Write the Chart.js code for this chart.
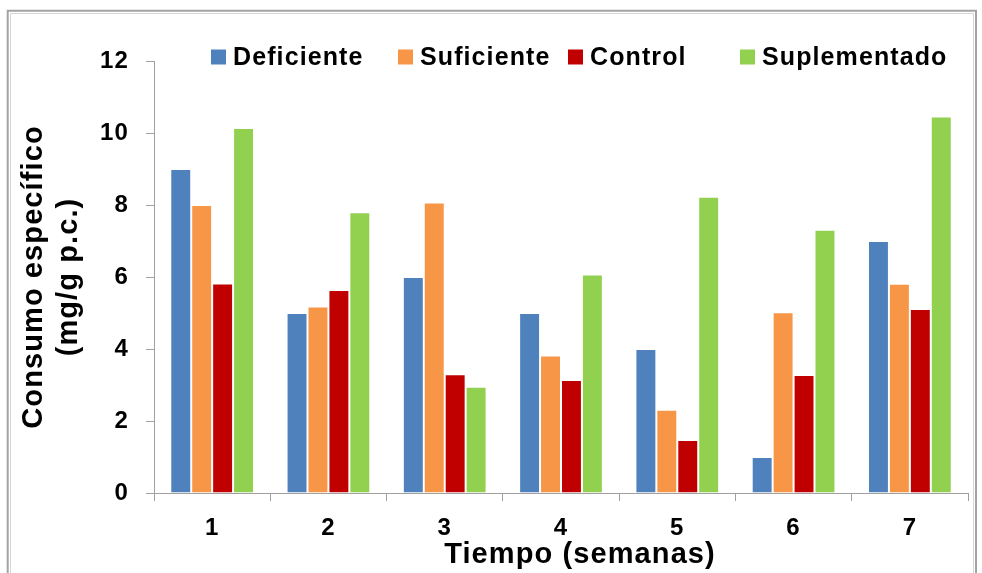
<!DOCTYPE html>
<html>
<head>
<meta charset="utf-8">
<script src="https://cdn.jsdelivr.net/npm/chart.js@4/dist/chart.umd.min.js"></script>
<style>
  html, body { margin: 0; padding: 0; background: #ffffff; }
  canvas { display: block; }
</style>
</head>
<body>
<canvas id="c" width="982" height="573"></canvas>
<script>
// Weekly specific consumption per group
const semanas = ['1', '2', '3', '4', '5', '6', '7'];
const deficiente   = [9, 5, 6, 5, 4, 1, 7];
const suficiente   = [8, 5.18, 8.07, 3.82, 2.31, 5.02, 5.81];
const control      = [5.82, 5.64, 3.3, 3.14, 1.47, 3.28, 5.11];
const suplementado = [10.14, 7.8, 2.95, 6.07, 8.23, 7.31, 10.46];

const seriesNames  = ['Deficiente', 'Suficiente', 'Control', 'Suplementado'];
const seriesColors = ['#4f81bd', '#f79646', '#c00000', '#92d050'];

const yTitle = ['Consumo específico', '(mg/g p.c.)'];
const xTitle = 'Tiempo (semanas)';

const FONT = "'Liberation Sans', Arial, Helvetica, sans-serif";
const SPACING = '1.1px';

// Legend swatch positions across the top of the chart
const legendBoxX = [211, 398, 568, 740];

const setSpacing = (chart) => { chart.ctx.letterSpacing = SPACING; };

const widerText = {
  id: 'widerText',
  afterInit: setSpacing,
  beforeUpdate: setSpacing,
  beforeLayout: setSpacing,
  beforeDraw: setSpacing
};

// Outer frame of the chart area (double grey border)
const frame = {
  id: 'frame',
  beforeDraw(chart) {
    const ctx = chart.ctx;
    ctx.save();
    ctx.strokeStyle = '#a3a3a3';
    ctx.lineWidth = 2;
    ctx.beginPath();
    ctx.moveTo(7.7, 600); ctx.lineTo(7.7, 10.7); ctx.lineTo(976, 10.7); ctx.lineTo(976, 600);
    ctx.stroke();
    ctx.strokeStyle = '#d6d6d6';
    ctx.lineWidth = 1;
    ctx.beginPath();
    ctx.moveTo(10.5, 600); ctx.lineTo(10.5, 13.5); ctx.lineTo(973.5, 13.5); ctx.lineTo(973.5, 600);
    ctx.stroke();
    ctx.restore();
  }
};

// Legend row and x-axis title
const extras = {
  id: 'extras',
  afterDraw(chart) {
    const ctx = chart.ctx;
    ctx.save();
    ctx.letterSpacing = SPACING;
    ctx.textBaseline = 'alphabetic';
    ctx.textAlign = 'left';
    ctx.font = 'bold 25px ' + FONT;
    chart.data.datasets.forEach((ds, i) => {
      const bx = legendBoxX[i];
      ctx.fillStyle = ds.backgroundColor;
      ctx.fillRect(bx, 49.5, 15, 15);
      ctx.fillStyle = '#000000';
      ctx.fillText(ds.label, bx + 22, 65);
    });
    const xs = chart.scales.x;
    ctx.font = 'bold 29px ' + FONT;
    ctx.textAlign = 'center';
    ctx.fillText(xTitle, (xs.left + xs.right) / 2 + 19, 563);
    ctx.restore();
  }
};

const seriesValues = [deficiente, suficiente, control, suplementado];

new Chart(document.getElementById('c'), {
  type: 'bar',
  data: {
    labels: semanas,
    datasets: seriesNames.map((name, i) => ({
      label: name,
      data: seriesValues[i],
      backgroundColor: seriesColors[i],
      borderColor: 'rgba(255,255,255,0.35)',
      borderWidth: 1,
      borderSkipped: 'start',
      categoryPercentage: 0.72,
      barPercentage: 1.0
    }))
  },
  options: {
    responsive: false,
    animation: false,
    devicePixelRatio: 1,
    layout: { padding: { top: 61, right: 14, bottom: 0, left: 0 } },
    plugins: {
      legend: { display: false },
      tooltip: { enabled: false }
    },
    scales: {
      x: {
        grid: {
          offset: true,
          drawOnChartArea: false,
          drawTicks: true,
          tickLength: 8,
          color: '#a0a0a0',
          lineWidth: 1
        },
        border: { display: true, color: '#a0a0a0', width: 1 },
        ticks: {
          color: '#000000',
          padding: 13,
          font: { family: FONT, size: 24, weight: 'bold' }
        },
        afterFit(scale) { scale.height = 80; }
      },
      y: {
        min: 0,
        max: 12,
        ticks: {
          stepSize: 2,
          color: '#000000',
          padding: 17,
          font: { family: FONT, size: 24, weight: 'bold' }
        },
        grid: {
          drawOnChartArea: false,
          drawTicks: true,
          tickLength: 8,
          color: '#a0a0a0',
          lineWidth: 1
        },
        border: { display: true, color: '#a0a0a0', width: 1 },
        title: {
          display: true,
          text: yTitle,
          color: '#000000',
          font: { family: FONT, size: 29, weight: 'bold', lineHeight: 1.2 },
          padding: { top: 17, bottom: 0 }
        },
        afterFit(scale) { scale.width = 154; }
      }
    }
  },
  plugins: [widerText, frame, extras]
});
</script>
</body>
</html>
